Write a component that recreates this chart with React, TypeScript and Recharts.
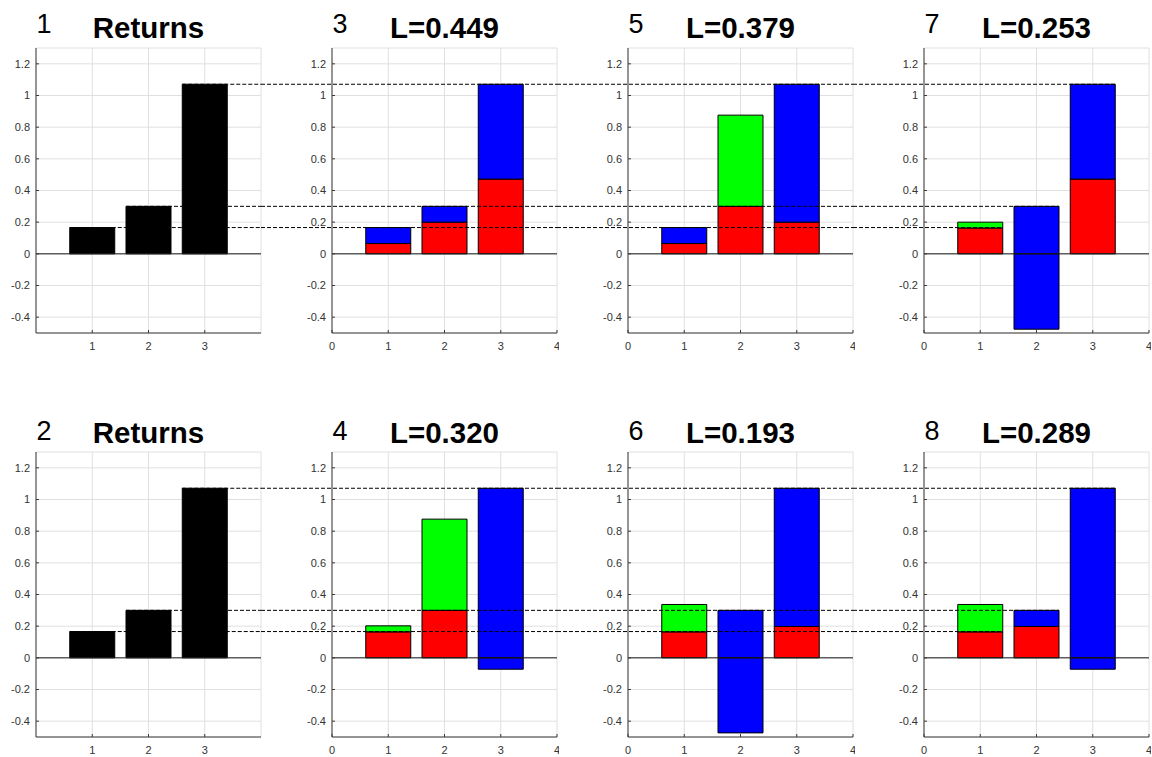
import React from 'react';
import { BarChart, Bar, XAxis, YAxis, CartesianGrid, ReferenceLine } from 'recharts';

// ---------- data ----------
const categories = [1, 2, 3];
const returnsValues = [0.166, 0.3, 1.071];
const yTicks = [-0.4, -0.2, 0, 0.2, 0.4, 0.6, 0.8, 1, 1.2];
const xTicksFull = [0, 1, 2, 3, 4];
const xTicksReturns = [1, 2, 3];

const panelNumbers = [['1', '3', '5', '7'], ['2', '4', '6', '8']];
const panelTitles = [
  ['Returns', 'L=0.449', 'L=0.379', 'L=0.253'],
  ['Returns', 'L=0.320', 'L=0.193', 'L=0.289'],
];

// stacked segment heights (red bottom, green / blue on top, blueNeg below zero)
const red3 = [0.065, 0.2, 0.472];
const green3 = [0, 0, 0];
const blue3 = [0.101, 0.1, 0.599];
const blueNeg3 = [0, 0, 0];

const red5 = [0.065, 0.3, 0.2];
const green5 = [0, 0.576, 0];
const blue5 = [0.101, 0, 0.871];
const blueNeg5 = [0, 0, 0];

const red7 = [0.163, 0, 0.472];
const green7 = [0.037, 0, 0];
const blue7 = [0, 0.3, 0.599];
const blueNeg7 = [0, -0.476, 0];

const red4 = [0.164, 0.3, 0];
const green4 = [0.038, 0.576, 0];
const blue4 = [0, 0, 1.071];
const blueNeg4 = [0, 0, -0.072];

const red6 = [0.164, 0, 0.198];
const green6 = [0.173, 0, 0];
const blue6 = [0, 0.3, 0.873];
const blueNeg6 = [0, -0.474, 0];

const red8 = [0.164, 0.198, 0];
const green8 = [0.173, 0, 0];
const blue8 = [0, 0.102, 1.071];
const blueNeg8 = [0, 0, -0.072];

const BAR_HALF = 0.4;

// ---------- layout / style ----------
const FONT = '"Liberation Sans", Arial, Helvetica, sans-serif';
const AXIS = '#3a3a3a';
const TICK_TEXT = '#333333';
const GRID = '#e0e0e0';
const TICK_FS = 11;
const PLOT_LEFT0 = 36;
const COL_STEP = 296;
const PLOT_W = 225;
const PLOT_H = 285;
const GAP = COL_STEP - PLOT_W;
const ROW_TOPS = [48.3, 451.7];
const NUM_BASE = [32.8, 439.5];
const TITLE_BASE = [37.5, 442.7];
const MT = 10;
const MR = 2;
const XH = 26;

const buildReturns = () => categories.map((x, i) => ({ x, v: returnsValues[i] }));
const buildDecomp = (r: number[], g: number[], b: number[], bn: number[]) =>
  categories.map((x, i) => ({ x, red: r[i], green: g[i], blue: b[i], blueNeg: bn[i] }));

const panelData: any[][] = [
  [buildReturns(), buildDecomp(red3, green3, blue3, blueNeg3), buildDecomp(red5, green5, blue5, blueNeg5), buildDecomp(red7, green7, blue7, blueNeg7)],
  [buildReturns(), buildDecomp(red4, green4, blue4, blueNeg4), buildDecomp(red6, green6, blue6, blueNeg6), buildDecomp(red8, green8, blue8, blueNeg8)],
];

const XTick = (props: any) => (
  <text x={props.x} y={props.y} dy="0.72em" textAnchor="middle" fontSize={TICK_FS} fontFamily={FONT} fill={TICK_TEXT}>
    {String(props.payload.value)}
  </text>
);
const YTick = (props: any) => (
  <text x={props.x} y={props.y} dy="0.36em" textAnchor="end" fontSize={TICK_FS} fontFamily={FONT} fill={TICK_TEXT}>
    {String(props.payload.value)}
  </text>
);

function Panel({ row, col }: { row: number; col: number }) {
  const plotLeft = PLOT_LEFT0 + col * COL_STEP;
  const plotTop = ROW_TOPS[row];
  const yw = col === 0 ? plotLeft : GAP;
  const width = yw + PLOT_W + MR;
  const height = MT + PLOT_H + XH;
  const gapUnits = GAP / (PLOT_W / 4);
  const isReturns = col === 0;
  const isLast = col === 3;
  const xTicks = isReturns ? xTicksReturns : xTicksFull;
  const data = panelData[row][col];

  return (
    <div style={{ position: 'absolute', left: plotLeft - yw, top: plotTop - MT }}>
      <BarChart
        width={width}
        height={height}
        data={data}
        margin={{ top: MT, right: MR, bottom: 0, left: 0 }}
        stackOffset="sign"
        barCategoryGap="10%"
      >
        <CartesianGrid stroke={GRID} />
        <XAxis
          dataKey="x"
          type="number"
          domain={[0, 4]}
          ticks={xTicks}
          allowDataOverflow
          interval={0}
          height={XH}
          tickSize={-3}
          tickMargin={12.5}
          stroke={AXIS}
          tick={XTick}
        />
        <XAxis
          xAxisId="top"
          orientation="top"
          dataKey="x"
          type="number"
          domain={[0, 4]}
          ticks={xTicks}
          allowDataOverflow
          interval={0}
          height={0}
          tickSize={-3}
          tickFormatter={() => ''}
          stroke={AXIS}
        />
        <YAxis
          type="number"
          domain={[-0.5, 1.3]}
          ticks={yTicks}
          allowDataOverflow
          interval={0}
          width={yw}
          tickSize={-3}
          tickMargin={9}
          stroke={AXIS}
          tick={YTick}
        />
        <YAxis
          yAxisId="right"
          orientation="right"
          type="number"
          domain={[-0.5, 1.3]}
          ticks={yTicks}
          allowDataOverflow
          interval={0}
          width={0}
          tickSize={-3}
          tickFormatter={() => ''}
          stroke={AXIS}
        />
        {isReturns ? (
          <Bar dataKey="v" stackId="s" fill="#000000" stroke="#000000" isAnimationActive={false} />
        ) : null}
        {!isReturns ? <Bar dataKey="red" stackId="s" fill="#ff0000" stroke="#000000" isAnimationActive={false} /> : null}
        {!isReturns ? <Bar dataKey="green" stackId="s" fill="#00ff00" stroke="#000000" isAnimationActive={false} /> : null}
        {!isReturns ? <Bar dataKey="blue" stackId="s" fill="#0000ff" stroke="#000000" isAnimationActive={false} /> : null}
        {!isReturns ? <Bar dataKey="blueNeg" stackId="s" fill="#0000ff" stroke="#000000" isAnimationActive={false} /> : null}
        <ReferenceLine y={0} stroke="#1a1a1a" strokeWidth={1} />
        {returnsValues.map((v, k) => (
          <ReferenceLine
            key={k}
            ifOverflow="visible"
            stroke="#000000"
            strokeWidth={1}
            strokeDasharray="4 2"
            segment={[
              { x: col === 0 ? categories[k] - BAR_HALF : -gapUnits, y: v },
              { x: isLast ? categories[k] + BAR_HALF : 4, y: v },
            ]}
          />
        ))}
      </BarChart>
    </div>
  );
}

export default function App() {
  const rows = [0, 1];
  const cols = [0, 1, 2, 3];
  return (
    <div style={{ position: 'absolute', left: 0, top: 0, width: 1152, height: 757, background: '#ffffff', fontFamily: FONT }}>
      {rows.map((r) => cols.map((c) => <Panel key={`${r}-${c}`} row={r} col={c} />))}
      <svg width={1152} height={757} style={{ position: 'absolute', left: 0, top: 0, pointerEvents: 'none' }}>
        {rows.map((r) =>
          cols.map((c) => {
            const plotLeft = PLOT_LEFT0 + c * COL_STEP;
            return (
              <g key={`t-${r}-${c}`}>
                <text x={plotLeft + 0.5} y={NUM_BASE[r]} fontSize={27} fontFamily={FONT} fill="#000">
                  {panelNumbers[r][c]}
                </text>
                <text
                  x={plotLeft + PLOT_W / 2}
                  y={TITLE_BASE[r]}
                  textAnchor="middle"
                  fontSize={29.5}
                  fontWeight="bold"
                  fontFamily={FONT}
                  fill="#000"
                >
                  {panelTitles[r][c]}
                </text>
              </g>
            );
          })
        )}
      </svg>
    </div>
  );
}
